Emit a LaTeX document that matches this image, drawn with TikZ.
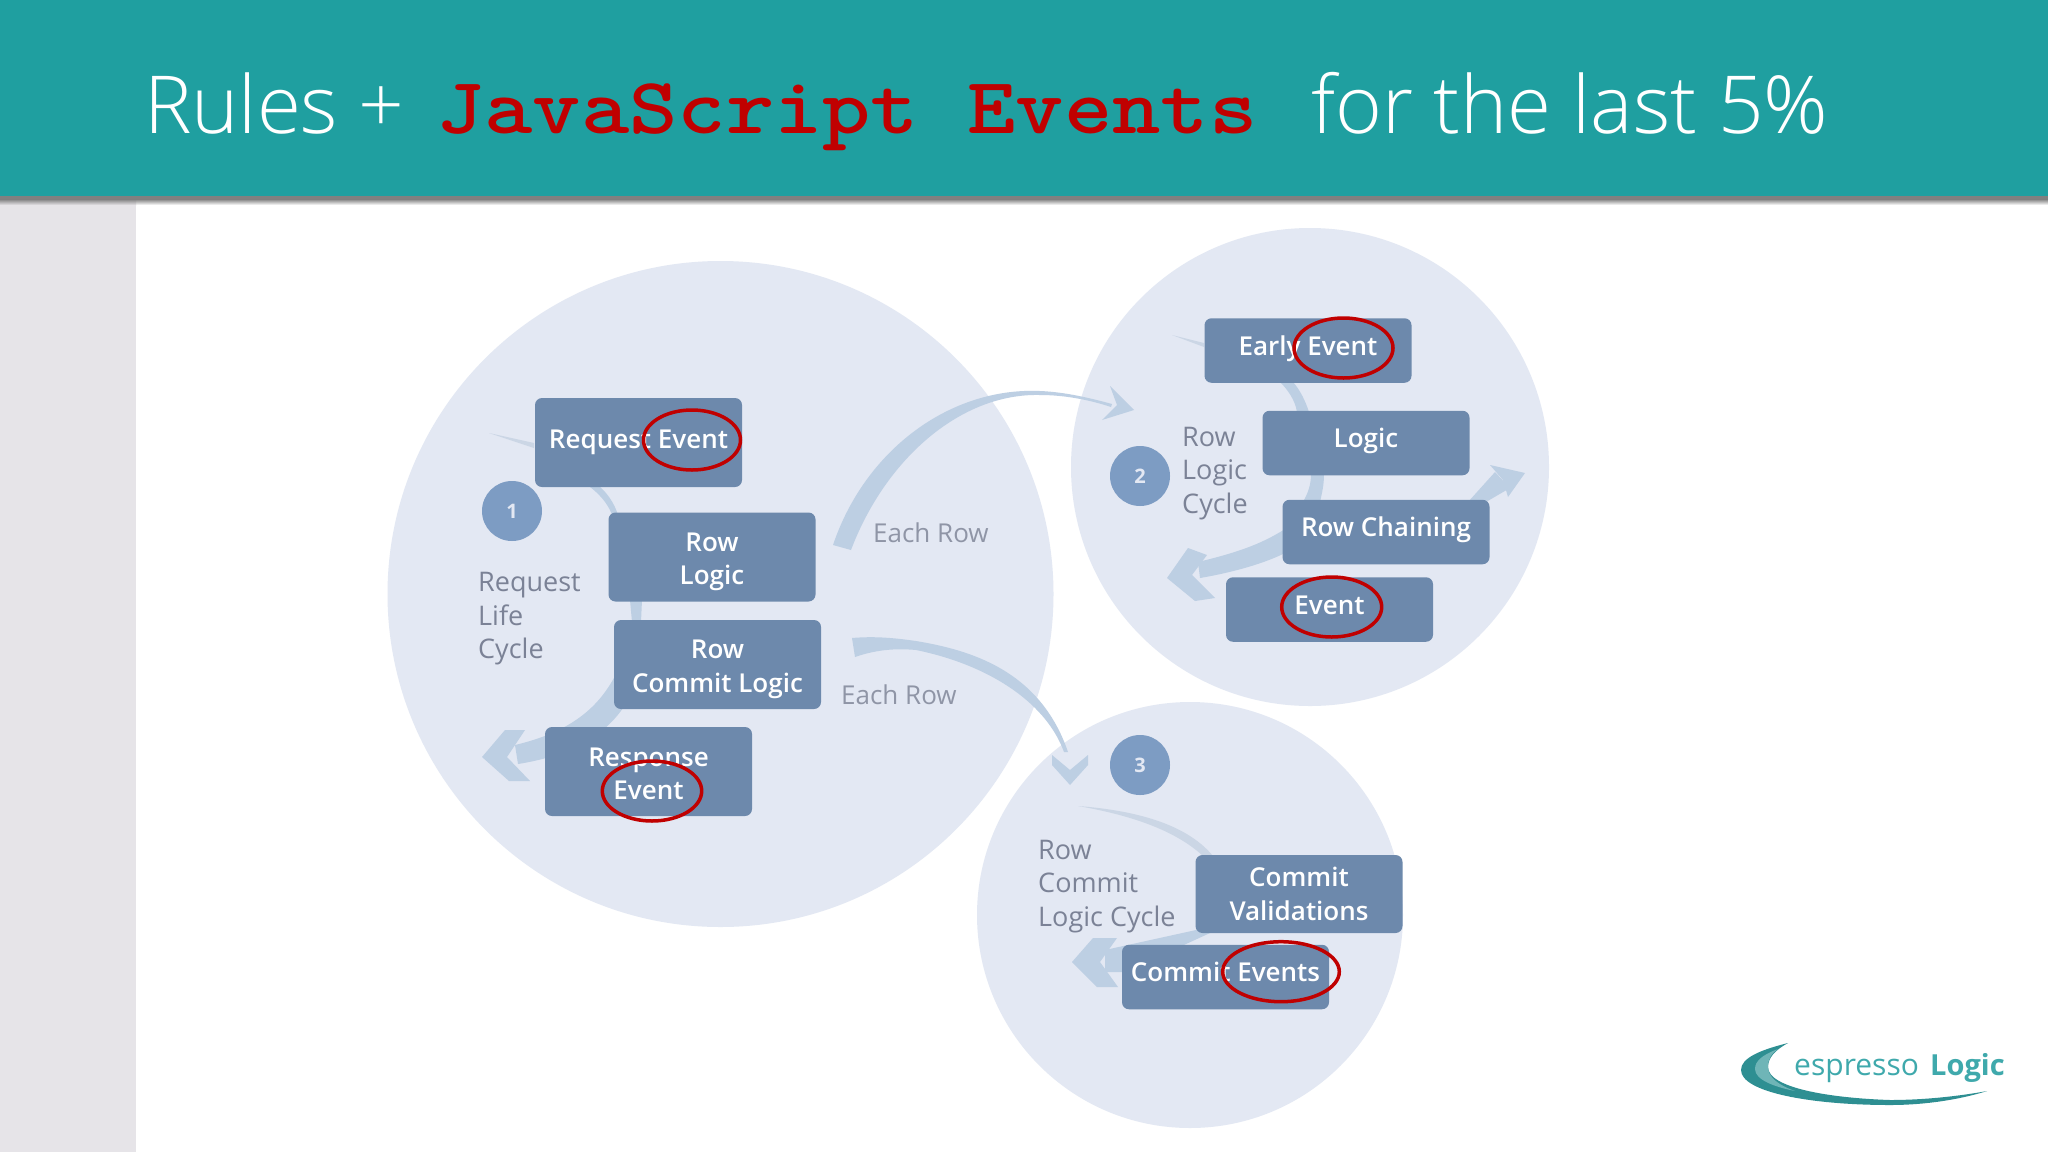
\documentclass[tikz,border=0pt]{standalone}
\usepackage{fontspec}
\setmainfont{Open Sans}
\newfontfamily\titlefont{Open Sans Light}
\newfontfamily\boxfont{Open Sans Semibold}
\definecolor{teal1}{HTML}{1F9FA0}
\definecolor{sidebar}{HTML}{E6E4E8}
\definecolor{disc}{HTML}{E3E8F3}
\definecolor{boxc}{HTML}{6D89AC}
\definecolor{numc}{HTML}{7D9CC3}
\definecolor{labelc}{HTML}{7B8296}
\definecolor{flow}{HTML}{BDCFE3}
\definecolor{flowthin}{HTML}{CBD6E5}
\definecolor{redc}{HTML}{C00000}
\definecolor{logod}{HTML}{2E8F92}
\definecolor{logol}{HTML}{6FB5B7}
\definecolor{logot}{HTML}{3FA9AC}
\newcommand{\fsz}[2]{\fontsize{#1}{#2}\selectfont}
\newcommand{\bl}[2]{\raisebox{#1pt}[0pt][0pt]{#2}}
\tikzset{
  disc/.style={circle,fill=disc,inner sep=0pt},
  stage/.style={rectangle,rounded corners=7pt,fill=boxc,text=white,inner sep=0pt,
     align=center,minimum width=207pt,minimum height=#1,font=\boxfont\fsz{26}{33.5}},
  stage/.default=64.5pt,
  num/.style={circle,fill=numc,text=disc,minimum size=60pt,inner sep=0pt,font=\fsz{20}{24}\bfseries},
  lbl/.style={text=labelc,anchor=base west,inner sep=0pt,align=left,font=\fsz{27}{33.5}},
  each/.style={text=labelc!85,anchor=base west,inner sep=0pt,font=\fsz{26}{30}},
  flowfill/.style={fill=flow},
  thinfill/.style={fill=flowthin},
  ring/.style={draw=redc,line width=3.5pt},
  title/.style={anchor=base west,inner sep=0pt,text=white,font=\titlefont\fsz{80}{90}},
}
\begin{document}
\begin{tikzpicture}[x=1pt,y=-1pt]
\useasboundingbox (0,0) rectangle (2048,1152);
\fill[white] (0,0) rectangle (2048,1152);
\fill[sidebar] (0,195) rectangle (136,1152);
\shade[top color=black!50,bottom color=white] (136,199) rectangle (2048,205);
\shade[top color=black!50,bottom color=sidebar] (0,199) rectangle (136,205);
\fill[black!50] (0,195) rectangle (2048,199);
\fill[teal1] (0,0) rectangle (2048,196);
% title
\node[title] (t1) at (144,133) {Rules +};
\node[anchor=base west,inner sep=0pt,text=redc,font=\ttfamily\bfseries\fsz{80}{90}\addfontfeature{FakeBold=1.5}] (t2) at (436,133) {\scalebox{1.15}[1]{JavaScript Events}};
\node[title] (t3) at (1311,133) {for the last 5\%};
% discs
\node[disc,minimum size=666pt] (d1) at (720.5,594) {};
\node[disc,minimum size=478pt] (d2) at (1310,467) {};
\node[disc,minimum size=426pt] (d3) at (1190,915) {};
% flow d1 -> d2
\fill[flowfill] (833,545) .. controls (865,450) and (950,387) .. (1040,391) .. controls (1065,392) and (1090,398) .. (1112,404)
  -- (1111,407) .. controls (1090,400) and (1065,395) .. (1040,395) .. controls (960,393) and (885,460) .. (851,550) -- cycle;
\fill[flowfill] (1110,386) -- (1134,410) -- (1102,420) -- (1117,405) -- cycle;
% flow d1 -> d3
\fill[flowfill] (852,638) .. controls (875,636) and (895,638) .. (916,641) .. controls (970,650) and (1040,670) .. (1068,752)
  -- (1064,752) .. controls (1045,700) and (985,664) .. (916,650) .. controls (895,648) and (875,650) .. (855,657) -- cycle;
\fill[flowfill] (1052,755) -- (1070,770) -- (1088,755) -- (1088,765) -- (1070,785) -- (1052,765) -- cycle;
% flows inside disc 1
\fill[thinfill] (489,433) -- (534,443) -- (534,448) -- cycle;
\fill[flowfill] (590,487) .. controls (598,493) and (608,503) .. (612,515) -- (618,515) .. controls (614,502) and (606,492) .. (600,487) -- cycle;
\fill[flowfill] (630,600) -- (642,600) -- (641,622) -- (632,622) -- cycle;
\fill[flowfill] (618,670) .. controls (600,708) and (570,732) .. (515,745) -- (518,764) .. controls (575,755) and (610,732) .. (628,700) -- cycle;
\fill[flowfill] (525,730) -- (505,730) -- (482,757) -- (509,781) -- (530,781) -- (507,757) -- cycle;
% flows inside disc 2
\fill[thinfill] (1172,335) -- (1204,343) -- (1204,347) -- cycle;
\fill[flowfill] (1280,382) .. controls (1288,390) and (1295,400) .. (1297,412) -- (1309,412) .. controls (1305,400) and (1300,390) .. (1293,382) -- cycle;
\fill[flowfill] (1311,474) -- (1324,474) .. controls (1324,485) and (1322,493) .. (1320,502) -- (1303,502) .. controls (1308,493) and (1311,485) .. (1311,474) -- cycle;
\fill[flowfill] (1285,529) .. controls (1260,545) and (1235,553) .. (1198,562) -- (1200,578) .. controls (1235,572) and (1265,563) .. (1285,553) -- cycle;
\fill[flowfill] (1188,548) -- (1207,555) -- (1192,575) -- (1215,598) -- (1195,601) -- (1167,578) -- cycle;
\fill[flowfill] (1468,502) -- (1495,472) -- (1510,488) -- (1486,502) -- cycle;
\fill[flowfill] (1490,465) -- (1525,473) -- (1508,497) -- (1503,480) -- cycle;
% flows inside disc 3
\fill[thinfill] (1078,806) .. controls (1130,810) and (1185,822) .. (1213,856) -- (1203,856) .. controls (1175,830) and (1130,815) .. (1078,806) -- cycle;
\fill[flowfill] (1196,930) -- (1210,933) -- (1125,972) -- (1105,972) -- (1105,950) -- cycle;
\fill[flowfill] (1093,938) -- (1117,938) -- (1100,962) -- (1118,987) -- (1097,987) -- (1072,962) -- cycle;
% stages disc 1
\node[stage=89pt] (req) at (638.5,442.5) {\bl{-6.2}{Request Event}};
\node[stage=89pt] (rlog) at (712,557) {\bl{-11}{Row}\\\bl{-11}{Logic}};
\node[stage=89pt] (rcom) at (717.5,664.5) {\bl{-11}{Row}\\\bl{-11}{Commit Logic}};
\node[stage=89pt] (resp) at (648.5,771.5) {\bl{-11.5}{Response}\\\bl{-11.5}{Event}};
% stages disc 2
\node[stage] (early) at (1308,350.5) {\bl{-4.5}{Early Event}};
\node[stage] (logic) at (1366,443) {\bl{-4}{Logic}};
\node[stage] (chain) at (1386,532) {\bl{-4.7}{Row Chaining}};
\node[stage] (evt) at (1329.5,609.5) {\bl{-4.5}{Event}};
% stages disc 3
\node[stage=78pt] (cval) at (1299,894) {\bl{-9.5}{Commit}\\\bl{-9.5}{Validations}};
\node[stage] (cevt) at (1225.5,977) {\bl{-4}{Commit Events}};
% numbers
\node[num] (n1) at (512,511) {1};
\node[num] (n2) at (1140,476) {2};
\node[num] (n3) at (1140,765) {3};
% labels
\node[lbl] (l1) at (478,658.5) {Request\\Life\\Cycle};
\node[lbl] (l2) at (1182,513) {Row\\Logic\\Cycle};
\node[lbl] (l3) at (1038,926) {Row\\Commit\\Logic Cycle};
\node[each] (e1) at (873,542) {Each Row};
\node[each] (e2) at (841,704.5) {Each Row};
% red rings
\draw[ring] (692,440) ellipse (48.5 and 30);
\draw[ring] (652,791) ellipse (49.7 and 30);
\draw[ring] (1343.5,348) ellipse (49.5 and 30);
\draw[ring] (1331.7,607) ellipse (50 and 30);
\draw[ring] (1281,971.7) ellipse (58.3 and 30);
% logo
\fill[logod] (1788,1043) .. controls (1760,1050) and (1741,1058) .. (1741,1070) .. controls (1741,1092) and (1810,1105) .. (1890,1105) .. controls (1930,1105) and (1965,1098) .. (1987,1091)
  .. controls (1960,1096) and (1925,1100) .. (1890,1100) .. controls (1830,1098) and (1768,1088) .. (1768,1067) .. controls (1768,1058) and (1775,1050) .. (1788,1043) -- cycle;
\fill[logol] (1768,1067) .. controls (1768,1058) and (1772,1053) .. (1778,1049) .. controls (1762,1055) and (1755,1061) .. (1755,1069) .. controls (1755,1080) and (1775,1087) .. (1795,1091) .. controls (1778,1085) and (1768,1077) .. (1768,1067) -- cycle;
\node[anchor=base west,inner sep=0pt,text=logot,font=\fsz{30}{36}] (lg1) at (1794,1075) {espresso};
\node[anchor=base west,inner sep=0pt,text=logot,font=\fsz{29}{36}\bfseries] (lg2) at (1930,1075) {Logic};
\end{tikzpicture}
\end{document}
